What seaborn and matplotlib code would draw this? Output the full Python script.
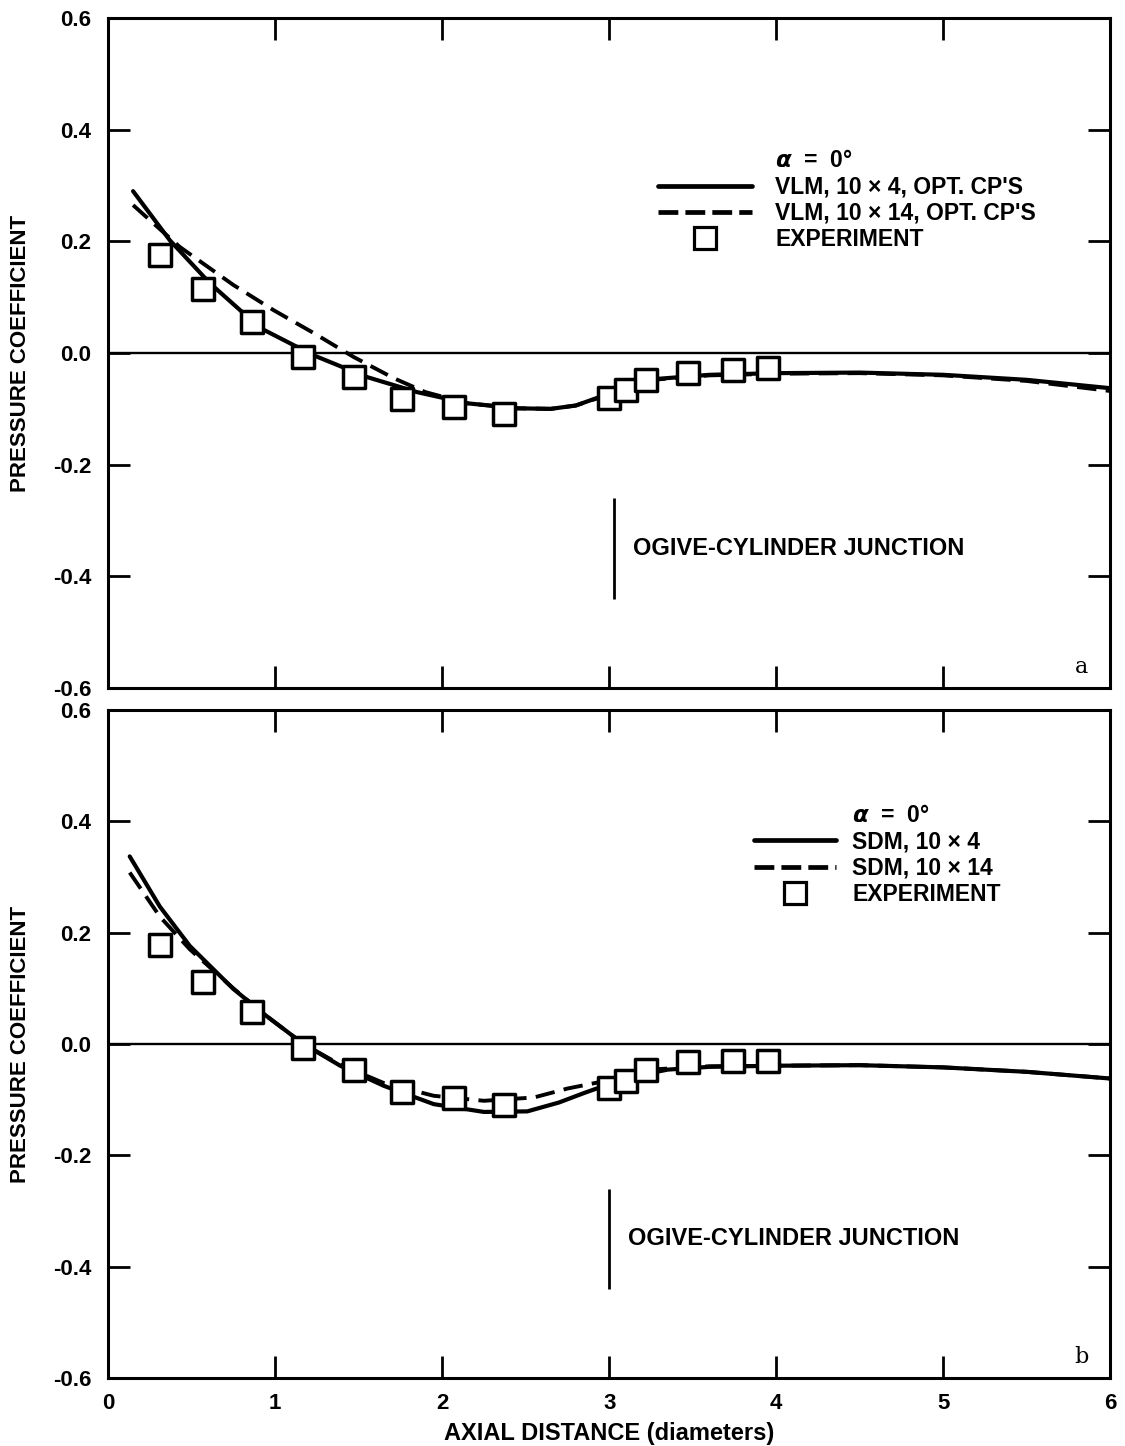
import matplotlib
matplotlib.use("Agg")
import matplotlib.pyplot as plt
import seaborn as sns
import pandas as pd
from matplotlib.lines import Line2D

# experiment (same stations in both panels)
exp_x = [0.31, 0.57, 0.86, 1.17, 1.47, 1.76, 2.07, 2.37, 3.00, 3.10, 3.22, 3.47, 3.74, 3.95]
a_exp_cp = [0.175, 0.115, 0.055, -0.007, -0.043, -0.082, -0.097, -0.109, -0.080, -0.066, -0.048, -0.036, -0.030, -0.027]
b_exp_cp = [0.177, 0.111, 0.057, -0.008, -0.046, -0.087, -0.097, -0.110, -0.079, -0.066, -0.046, -0.033, -0.031, -0.030]

# panel a: VLM
a_solid_x = [0.15, 0.37, 0.61, 0.91, 1.23, 1.55, 1.85, 2.15, 2.45, 2.65, 2.80, 2.95, 3.10, 3.30, 3.60, 4.00, 4.50, 5.00, 5.50, 6.00]
a_solid_cp = [0.290, 0.202, 0.125, 0.045, -0.004, -0.043, -0.070, -0.090, -0.099, -0.100, -0.094, -0.078, -0.060, -0.046, -0.039, -0.036, -0.035, -0.039, -0.048, -0.063]
a_dash_x = [0.15, 0.43, 0.75, 0.99, 1.23, 1.47, 1.71, 1.90, 2.15, 2.45, 2.65, 2.80, 2.95, 3.10, 3.30, 3.60, 4.00, 4.50, 5.00, 5.50, 6.00]
a_dash_cp = [0.265, 0.190, 0.122, 0.077, 0.036, -0.007, -0.045, -0.070, -0.090, -0.099, -0.100, -0.094, -0.079, -0.061, -0.047, -0.040, -0.037, -0.036, -0.040, -0.050, -0.068]

# panel b: SDM
b_solid_x = [0.13, 0.31, 0.49, 0.75, 0.95, 1.17, 1.39, 1.65, 1.95, 2.25, 2.51, 2.70, 2.85, 3.00, 3.15, 3.35, 3.60, 4.00, 4.50, 5.00, 5.50, 6.00]
b_solid_cp = [0.337, 0.247, 0.176, 0.099, 0.050, 0.000, -0.039, -0.075, -0.108, -0.122, -0.121, -0.105, -0.088, -0.072, -0.058, -0.046, -0.041, -0.039, -0.038, -0.042, -0.050, -0.062]
b_dash_x = [0.13, 0.31, 0.49, 0.75, 0.95, 1.17, 1.39, 1.65, 1.95, 2.25, 2.55, 2.75, 2.95, 3.10, 3.30, 3.60, 4.00, 4.50, 5.00, 5.50, 6.00]
b_dash_cp = [0.308, 0.229, 0.170, 0.100, 0.050, 0.000, -0.037, -0.070, -0.093, -0.102, -0.096, -0.080, -0.068, -0.056, -0.045, -0.040, -0.039, -0.038, -0.042, -0.050, -0.062]

junction_x = {'a': 3.03, 'b': 3.00}
junction_span = (-0.44, -0.26)

x_ticks = [0, 1, 2, 3, 4, 5, 6]
y_ticks = [-0.6, -0.4, -0.2, 0.0, 0.2, 0.4, 0.6]
y_tick_labels = ['-0.6', '-0.4', '-0.2', '0.0', '0.2', '0.4', '0.6']

sns.set_style("ticks")
plt.rcParams['font.family'] = ['Liberation Sans', 'DejaVu Sans']
plt.rcParams['font.weight'] = 'bold'
plt.rcParams['mathtext.fontset'] = 'dejavusans'
# seaborn greys -> plain black like the scanned figure
for key in ['text.color', 'axes.labelcolor', 'xtick.color', 'ytick.color', 'axes.edgecolor']:
    plt.rcParams[key] = 'black'

fig = plt.figure(figsize=(11.25, 14.46), dpi=100)
ax_a = fig.add_axes([0.096, 0.5242, 0.891, 0.4633])
ax_b = fig.add_axes([0.096, 0.047, 0.891, 0.462])

DASH = (5, 2.4)
FS = 16.5


def draw_panel(ax, sx, sy, dx, dy, ey, labels, letter, jx, leg_anchor, hlen, hpad):
    ax.axhline(0, color='black', lw=1.7, zorder=1)
    sns.lineplot(x=dx, y=dy, ax=ax, color='black', lw=2.8, sort=False,
                 zorder=2).lines[-1].set_dashes(DASH)
    sns.lineplot(x=sx, y=sy, ax=ax, color='black', lw=3.0, sort=False, zorder=3)
    sc = sns.scatterplot(x=exp_x, y=ey, ax=ax, marker='s', s=265, color='white',
                         edgecolor='black', linewidth=2.5, zorder=4)
    sc.collections[-1].set_joinstyle('round')

    ax.vlines(jx, *junction_span, color='black', lw=2)
    ax.text(jx + 0.11, sum(junction_span) / 2, 'OGIVE-CYLINDER JUNCTION',
            fontsize=17, fontweight='bold', va='center', ha='left')
    ax.text(0.978, 0.022, letter, transform=ax.transAxes, fontsize=16,
            family='DejaVu Serif', fontweight='normal', ha='right', va='baseline')

    handles = [Line2D([], [], linestyle='none'),
               Line2D([], [], color='black', lw=3.4),
               Line2D([], [], color='black', lw=3.4, dashes=(4.2, 1.5)),
               Line2D([], [], linestyle='none', marker='s', markersize=16,
                      markerfacecolor='white', markeredgecolor='black', markeredgewidth=2.3)]
    ax.legend(handles, [r'$\alpha$  =  0°'] + labels, loc='upper left',
              bbox_to_anchor=leg_anchor, frameon=False, borderpad=0,
              borderaxespad=0, handlelength=hlen, handletextpad=hpad,
              labelspacing=0.14, prop={'size': FS, 'weight': 'bold'})

    ax.set_xlim(0, 6)
    ax.set_ylim(-0.6, 0.6)
    ax.set_xticks(x_ticks)
    ax.set_yticks(y_ticks)
    ax.set_yticklabels(y_tick_labels)
    ax.tick_params(direction='in', length=16, width=2, top=True, right=True,
                   labelsize=16, pad=11)
    ax.tick_params(axis='y', pad=12)
    for sp in ax.spines.values():
        sp.set_linewidth(2.2)
        sp.set_visible(True)
    ax.set_ylabel('PRESSURE COEFFICIENT', fontsize=16, fontweight='bold')
    ax.yaxis.set_label_coords(-0.077, 0.5)
    ax.set_xlabel('')


draw_panel(ax_a, a_solid_x, a_solid_cp, a_dash_x, a_dash_cp, a_exp_cp,
           ["VLM, 10 \u00d7 4, OPT. CP'S", "VLM, 10 \u00d7 14, OPT. CP'S", 'EXPERIMENT'],
           'a', junction_x['a'], (0.549, 0.804), 4.1, 1.0)
draw_panel(ax_b, b_solid_x, b_solid_cp, b_dash_x, b_dash_cp, b_exp_cp,
           ['SDM, 10 \u00d7 4', 'SDM, 10 \u00d7 14', 'EXPERIMENT'],
           'b', junction_x['b'], (0.644, 0.859), 3.6, 0.7)

ax_a.tick_params(labelbottom=False)
ax_b.set_xlabel('AXIAL DISTANCE (diameters)', fontsize=17, fontweight='bold')
ax_b.xaxis.set_label_coords(0.5, -0.066)

fig.savefig('out.png', dpi=100)
